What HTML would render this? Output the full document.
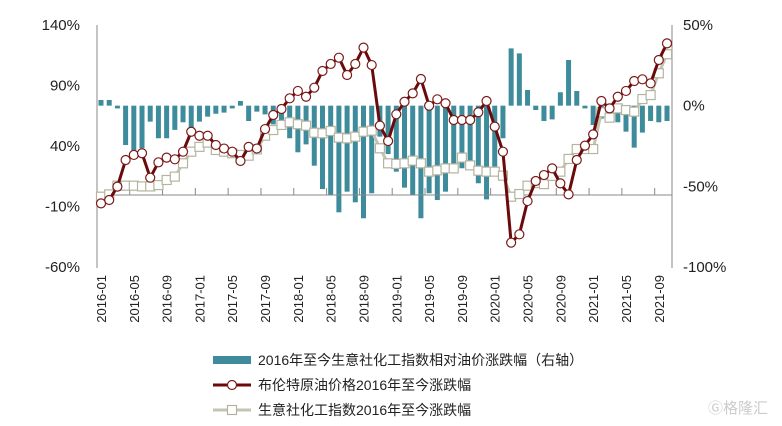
<!DOCTYPE html>
<html><head><meta charset="utf-8"><style>
body{margin:0;background:#fff;}
svg{display:block;font-family:"Liberation Sans","Noto Sans CJK SC",sans-serif;}
</style></head><body>
<svg id="chart" width="782" height="426">
<g id="bars"></g>
<g id="axes"></g>
<g id="lines"></g>
<g id="labels"></g>
<g>
  <rect x="213" y="356" width="38" height="8" fill="#3d8b9b"/>
  <text x="258" y="365" font-size="14" fill="#222">2016年至今生意社化工指数相对油价涨跌幅（右轴）</text>
  <line x1="213" y1="385" x2="251" y2="385" stroke="#6b0a0a" stroke-width="3"/>
  <circle cx="232" cy="385" r="4.5" fill="#fff" stroke="#7a1a1a" stroke-width="1.2"/>
  <text x="258" y="390" font-size="14" fill="#222">布伦特原油价格2016年至今涨跌幅</text>
  <line x1="213" y1="410" x2="251" y2="410" stroke="#c4c4b4" stroke-width="3"/>
  <rect x="227.5" y="405.5" width="9" height="9" fill="#fff" stroke="#b4b4a0" stroke-width="1.2"/>
  <text x="258" y="415" font-size="14" fill="#222">生意社化工指数2016年至今涨跌幅</text>
</g>
<text x="708" y="413" font-size="15" fill="#ccc">Ⓖ格隆汇</text>
</svg>
<script>
const brent=[-7.4,-4.6,6.4,28.4,32.6,34,13.8,26.5,30.4,29,35.3,51.8,48.5,48.5,40.8,37.9,35.3,27.6,39.3,37.9,54,65.6,70.6,79.4,85.5,80.7,88.2,102,107.8,113,98.7,107.8,121.3,106.9,56.8,44.1,66.2,76.6,83.5,95.4,73.3,78.6,75.3,61.5,61.5,61.5,67.9,77.2,56,35.3,-39.9,-33,-5.5,11.1,16,21.5,9.1,0,28.4,40.3,49.6,77.2,71.1,80.7,85.5,93.7,95.1,91.8,111.1,124.8];
const chem=[-1.9,0,7.2,7.2,7.2,6.6,6.6,7.7,11.9,14.7,25.7,35.3,39.3,42.8,36.7,35.3,34,32.6,32,37.2,48.5,53.2,57.4,59.6,58,56.8,51,50.5,52.4,46.9,46.3,47.7,51.8,52.7,38.1,25.7,25.2,25.7,27.9,25.7,18.8,19.9,21.5,21.5,30.4,24,19.6,18.8,18.8,15.5,-1.9,0.3,7.2,9.4,8.5,15.3,18.8,29.3,37.5,37.5,37.5,67.9,63.4,71.1,69.7,68.4,78.8,82.1,100.1,115.8];
const rel=[3.5,3.5,-1.7,-24.4,-28,-26.4,-9.9,-20.2,-20.2,-15,-10.3,-15,-9.9,-6.8,-5,-4.3,-1.7,2.9,-9.5,-3.7,-5.4,-11.6,-9.5,-20.2,-28.9,-24,-37.2,-51.7,-55.4,-66.1,-53.3,-59.9,-69.8,-54.3,-19.2,-30,-40.9,-50.8,-55.4,-69.8,-54.3,-58.5,-53.3,-40.9,-38.8,-34.7,-48.1,-58.1,-37.8,-20.2,35.5,32.4,9.7,-2.7,-9.5,-8.5,8.3,28.3,9.1,-1.7,-12,-8,-5.8,-10.3,-16.1,-26,-16.7,-9.5,-10.3,-9.5];
const leftTicks=[140,90,40,-10,-60];
const rightTicks=[50,0,-50,-100];
const startYear=2016,startMonth=1;

const NS="http://www.w3.org/2000/svg";
const X0=101,STEP=(667-101)/(brent.length-1);
const x=i=>X0+STEP*i;
const yL=v=>25+(140-v)*242/200;
const yR=v=>25+(50-v)*242/150;
function mk(tag,attrs,parent){const e=document.createElementNS(NS,tag);for(const k in attrs)e.setAttribute(k,attrs[k]);parent.appendChild(e);return e;}
const gb=document.getElementById('bars'),ga=document.getElementById('axes'),gl=document.getElementById('lines'),gt=document.getElementById('labels');
rel.forEach((v,i)=>{const y0=yR(0),y1=yR(v);
 const r=mk('rect',{x:x(i)-2.5,y:Math.min(y0,y1),width:5,height:Math.abs(y1-y0),fill:'#3d8b9b'},gb);
 
 });
let a=mk('line',{x1:97,y1:25,x2:97,y2:268,stroke:'#888','stroke-width':1},ga);

a=mk('line',{x1:672,y1:25,x2:672,y2:268,stroke:'#888','stroke-width':1},ga);

a=mk('line',{x1:97,y1:195,x2:672,y2:195,stroke:'#888','stroke-width':1},ga);

for(let i=3.5;i<brent.length;i+=4){const t=mk('line',{x1:x(i),y1:188,x2:x(i),y2:195,stroke:'#888'},ga);
 }
function series(data,color,marker,name){
 const p=mk('polyline',{points:data.map((v,i)=>x(i)+','+yL(v)).join(' '),fill:'none',stroke:color,'stroke-width':3,'stroke-linejoin':'round'},gl);
 
 data.forEach((v,i)=>{let m;
  if(marker==='c')m=mk('circle',{cx:x(i),cy:yL(v),r:4.5,fill:'#fff',stroke:'#7a1a1a','stroke-width':1.2},gl);
  else m=mk('rect',{x:x(i)-4.5,y:yL(v)-4.5,width:9,height:9,fill:'#fff',stroke:'#b4b4a0','stroke-width':1.2},gl);
  });
}
series(chem,'#c4c4b4','s','chem-index');
series(brent,'#6b0a0a','c','brent');
leftTicks.forEach(v=>{const t=mk('text',{x:80,y:yL(v)+5,'text-anchor':'end','font-size':15,fill:'#222'},gt);t.textContent=v+'%';
 });
rightTicks.forEach(v=>{const t=mk('text',{x:683,y:yR(v)+5,'font-size':15,fill:'#222'},gt);t.textContent=v+'%';
 });
for(let i=0;i<brent.length;i+=4){const m=startMonth-1+i,yr=startYear+Math.floor(m/12),mo=(m%12)+1;
 const t=mk('text',{transform:`translate(${x(i)+5},275) rotate(-90)`,'text-anchor':'end','font-size':13,fill:'#222'},gt);
 t.textContent=yr+'-'+String(mo).padStart(2,'0');
 }
</script>
</body></html>
